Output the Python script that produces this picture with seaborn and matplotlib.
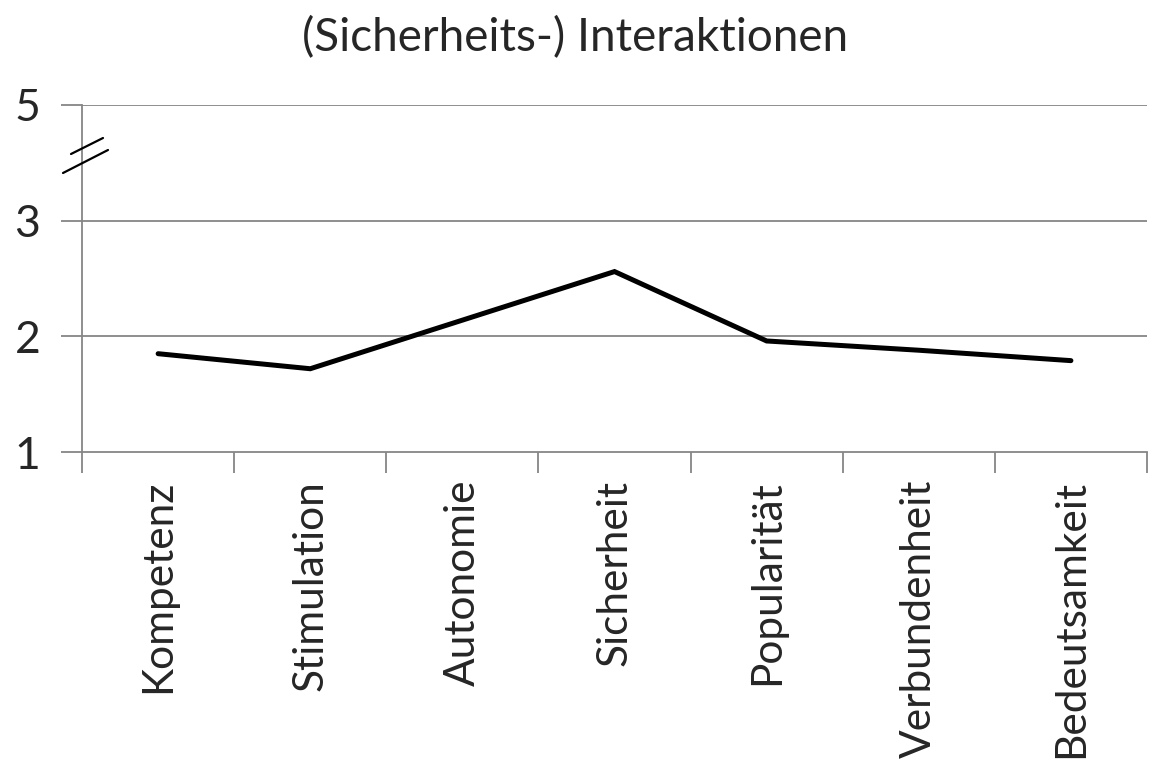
import matplotlib
matplotlib.use("Agg")
import matplotlib.pyplot as plt
import seaborn as sns
import pandas as pd
import numpy as np

categories = ['Kompetenz', 'Stimulation', 'Autonomie', 'Sicherheit',
              'Popularität', 'Verbundenheit', 'Bedeutsamkeit']
values = [1.85, 1.72, 2.14, 2.56, 1.96, 1.88, 1.79]
ytick_vals = [1, 2, 3, 4]
ytick_labels = ['1', '2', '3', '5']
title = '(Sicherheits-) Interaktionen'

sns.set_style('white')
plt.rcParams['font.family'] = ['Lato', 'DejaVu Sans']

df = pd.DataFrame({'pos': np.arange(len(categories)), 'val': values})

fig = plt.figure(figsize=(11.51, 7.76), dpi=100)
ax = fig.add_axes([0.0713, 0.4175, 0.9252, 0.4472])

grid_c = '#868686'
sns.lineplot(data=df, x='pos', y='val', ax=ax, color='black', linewidth=3.6,
             solid_capstyle='round', solid_joinstyle='miter', zorder=3)

ax.set_xlim(-0.5, len(categories) - 0.5)
ax.set_ylim(1, 4)
ax.set_yticks(ytick_vals)
ax.set_yticklabels(ytick_labels, fontsize=32)
for y in ytick_vals[1:]:
    ax.axhline(y, color=grid_c, linewidth=1.3, zorder=1)

ax.set_xticks(np.arange(len(categories)))
ax.set_xticklabels(categories, rotation=90, fontsize=30.5, va='top', ha='center')
ax.set_xticks(np.arange(len(categories) + 1) - 0.5, minor=True)
ax.tick_params(axis='x', which='major', bottom=True, length=0, pad=20)
ax.tick_params(axis='x', which='minor', bottom=True, length=15, width=1.3,
               color=grid_c, direction='out')
ax.tick_params(axis='y', which='major', left=True, length=15, width=1.3,
               color=grid_c, direction='out', pad=15)

for s in ['top', 'right']:
    ax.spines[s].set_visible(False)
for s in ['left', 'bottom']:
    ax.spines[s].set_color(grid_c)
    ax.spines[s].set_linewidth(1.3)
ax.set_xlabel('')
ax.set_ylabel('')

# axis break marks
fig.add_artist(plt.Line2D([71 / 1151, 103 / 1151], [1 - 154 / 776, 1 - 138 / 776],
                          color='black', linewidth=1.6))
fig.add_artist(plt.Line2D([63 / 1151, 108 / 1151], [1 - 173 / 776, 1 - 150 / 776],
                          color='black', linewidth=1.6))

fig.text(575.5 / 1151, 1 - 38 / 776, title, fontsize=33, ha='center', va='center')

fig.savefig('out.png', dpi=100)
plt.close(fig)
